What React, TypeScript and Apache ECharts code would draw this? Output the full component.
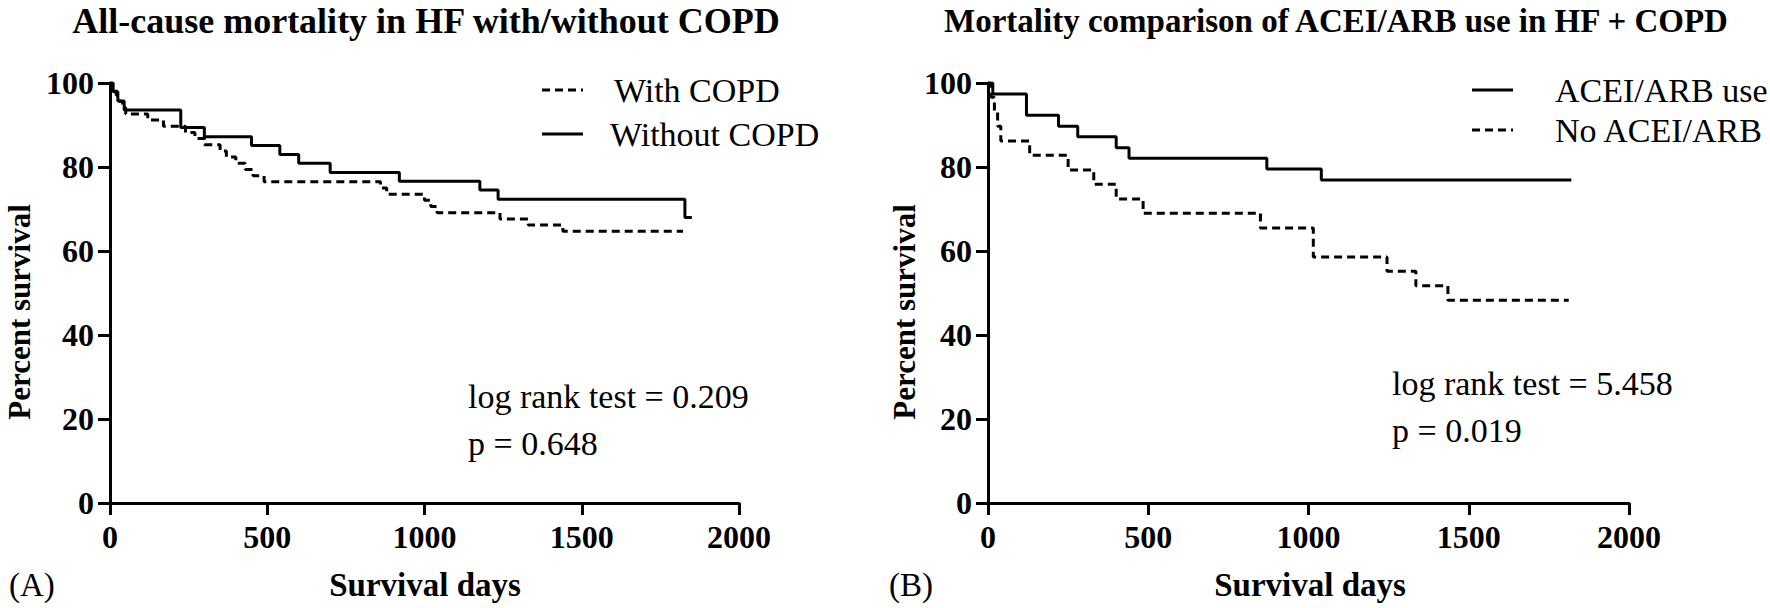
import React, { useEffect, useRef } from "react";
import * as echarts from "echarts";

// Panel A: All-cause mortality in HF with/without COPD
const daysWithCOPD = [0, 8, 20, 30, 40, 50, 120, 170, 240, 270, 300, 350, 370, 400, 430, 455, 490, 860, 880, 1000, 1020, 1040, 1240, 1330, 1440, 1822];
const survWithCOPD = [100, 98.5, 97.1, 95.6, 94.1, 92.6, 91.2, 89.7, 88.2, 86.8, 85.3, 83.8, 82.4, 80.9, 79.4, 77.9, 76.5, 75.0, 73.5, 72.1, 70.6, 69.1, 67.6, 66.2, 64.7, 64.7];
const daysWithoutCOPD = [0, 10, 25, 45, 225, 300, 450, 540, 600, 700, 920, 1176, 1234, 1828, 1850];
const survWithoutCOPD = [100, 97.9, 95.7, 93.6, 89.4, 87.2, 85.1, 83.0, 80.9, 78.7, 76.6, 74.5, 72.3, 68.0, 68.0];

// Panel B: ACEI/ARB use in HF + COPD
const daysAceiUse = [0, 15, 120, 220, 280, 400, 440, 870, 1040, 1820];
const survAceiUse = [100, 97.4, 92.3, 89.7, 87.2, 84.6, 82.1, 79.5, 76.9, 76.9];
const daysNoAcei = [0, 10, 20, 30, 40, 130, 250, 330, 400, 484, 850, 1015, 1245, 1335, 1435, 1812];
const survNoAcei = [100, 96.6, 93.1, 89.7, 86.2, 82.8, 79.3, 75.9, 72.4, 69.0, 65.5, 58.6, 55.2, 51.7, 48.3, 48.3];

const xTicks = { min: 0, max: 2000, interval: 500 };
const yTicks = { min: 0, max: 100, interval: 20 };

const titleA = "All-cause mortality in HF with/without COPD";
const titleB = "Mortality comparison of ACEI/ARB use in HF + COPD";
const legendA = ["With COPD", "Without COPD"];
const legendB = ["ACEI/ARB use", "No ACEI/ARB"];
const statsA = ["log rank test = 0.209", "p = 0.648"];
const statsB = ["log rank test = 5.458", "p = 0.019"];
const yName = "Percent survival";
const xName = "Survival days";

const SERIF = "'Liberation Serif', 'Times New Roman', serif";
const DASH = [8, 5];

function pairs(xs: number[], ys: number[]) {
  return xs.map((x, i) => [x, ys[i]]);
}

export default function App() {
  const ref = useRef<HTMLDivElement>(null);
  useEffect(() => {
    document.body.style.margin = "0";
    if (!ref.current) return;
    const chart = echarts.init(ref.current, null, { renderer: "svg" });

    const axisCommon = {
      axisLine: { show: true, lineStyle: { color: "#000", width: 3 } },
      axisTick: { show: true, length: 12, lineStyle: { color: "#000", width: 3 } },
      splitLine: { show: false },
    };
    const labelCommon = {
      fontFamily: SERIF,
      fontWeight: "bold",
      fontSize: 32,
      color: "#000",
      formatter: (v: number) => String(v),
    };
    const mkX = (gi: number) => ({
      type: "value",
      gridIndex: gi,
      ...xTicks,
      ...axisCommon,
      axisLabel: { ...labelCommon, margin: 18 },
    });
    const mkY = (gi: number) => ({
      type: "value",
      gridIndex: gi,
      ...yTicks,
      ...axisCommon,
      axisLabel: { ...labelCommon, margin: 16 },
    });
    const mkSeries = (gi: number, xs: number[], ys: number[], dashed: boolean, name: string) => ({
      name,
      type: "line",
      xAxisIndex: gi,
      yAxisIndex: gi,
      step: "end",
      symbol: "none",
      data: pairs(xs, ys),
      lineStyle: { color: "#000", width: 3, type: dashed ? DASH : "solid" },
    });

    const txt = (x: number, y: number, text: string, opts: any = {}) => ({
      type: "text",
      x,
      y,
      rotation: opts.rotation || 0,
      style: {
        text,
        fontFamily: SERIF,
        fontSize: opts.size || 32,
        fontWeight: opts.bold ? "bold" : "normal",
        fill: "#000",
        align: opts.align || "left",
        verticalAlign: "middle",
      },
    });
    const seg = (x1: number, x2: number, y: number, dashed: boolean) => ({
      type: "line",
      shape: { x1, y1: y, x2, y2: y },
      style: { stroke: "#000", lineWidth: 3, lineDash: dashed ? DASH : null },
    });

    chart.setOption({
      animation: false,
      backgroundColor: "#fff",
      grid: [
        { left: 110, top: 83, width: 629, height: 420 },
        { left: 988, top: 83, width: 641, height: 420 },
      ],
      xAxis: [mkX(0), mkX(1)],
      yAxis: [mkY(0), mkY(1)],
      series: [
        mkSeries(0, daysWithCOPD, survWithCOPD, true, legendA[0]),
        mkSeries(0, daysWithoutCOPD, survWithoutCOPD, false, legendA[1]),
        mkSeries(1, daysAceiUse, survAceiUse, false, legendB[0]),
        mkSeries(1, daysNoAcei, survNoAcei, true, legendB[1]),
      ],
      graphic: [
        txt(426, 21, titleA, { bold: true, size: 36, align: "center" }),
        txt(1336, 21, titleB, { bold: true, size: 33, align: "center" }),
        seg(542, 583, 90, true),
        txt(614, 90, legendA[0], { size: 34 }),
        seg(542, 583, 134, false),
        txt(610, 134, legendA[1], { size: 34 }),
        seg(1472, 1513, 90, false),
        txt(1555, 90, legendB[0], { size: 34 }),
        seg(1472, 1513, 130, true),
        txt(1555, 130, legendB[1], { size: 34 }),
        txt(468, 396, statsA[0], { size: 34 }),
        txt(468, 443, statsA[1], { size: 34 }),
        txt(1392, 383, statsB[0], { size: 34 }),
        txt(1392, 430, statsB[1], { size: 34 }),
        txt(19, 312, yName, { bold: true, size: 31, rotation: Math.PI / 2, align: "center" }),
        txt(904, 312, yName, { bold: true, size: 31, rotation: Math.PI / 2, align: "center" }),
        txt(425, 585, xName, { bold: true, size: 33, align: "center" }),
        txt(1310, 585, xName, { bold: true, size: 33, align: "center" }),
        txt(9, 585, "(A)", { size: 33 }),
        txt(889, 585, "(B)", { size: 33 }),
      ],
    });
    return () => chart.dispose();
  }, []);
  return <div ref={ref} style={{ width: 1770, height: 608 }} />;
}
